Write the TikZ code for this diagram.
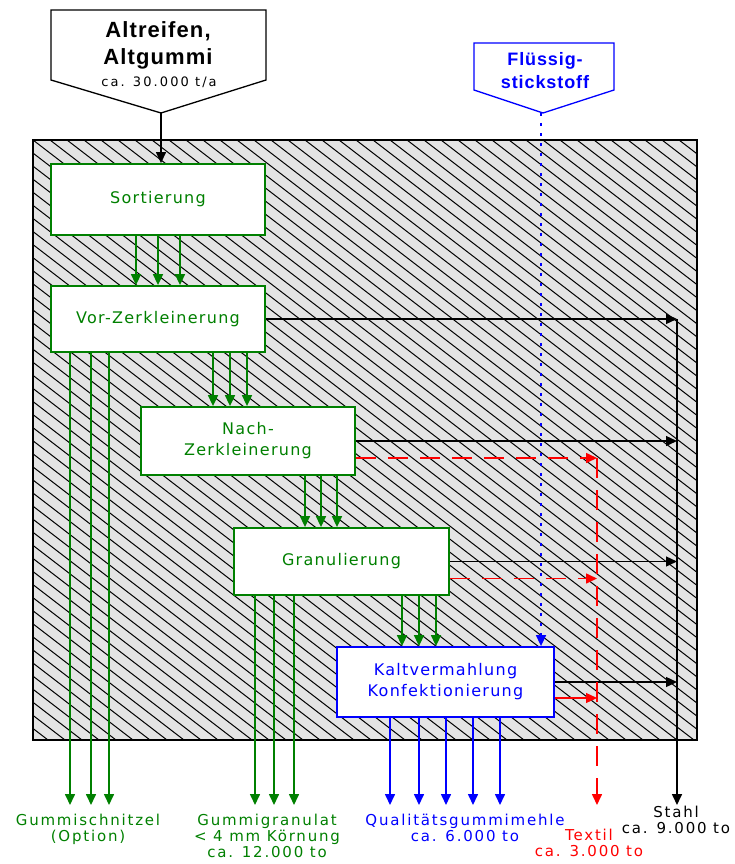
\documentclass[tikz,border=0pt]{standalone}
\usepackage{fontspec}
\setmainfont{DejaVu Sans}
\newfontfamily\boxfont[LetterSpace=8]{DejaVu Sans}
\newfontfamily\lblfont[LetterSpace=12]{DejaVu Sans}
\newfontfamily\kopffont[LetterSpace=16]{DejaVu Sans}
\newfontfamily\headfont[LetterSpace=5]{Liberation Sans}
\usetikzlibrary{arrows.meta}
\definecolor{dgreen}{rgb}{0,0.5,0}
\definecolor{hgray}{RGB}{228,228,228}
\begin{document}
\begin{tikzpicture}[x=1pt,y=-1pt, line join=miter, >={Triangle[length=11pt,width=10pt]},
	stufe/.style={draw=dgreen,line width=1.8pt,fill=white,text=dgreen,minimum width=214pt,minimum height=68pt,inner sep=0pt,align=center,font=\boxfont\fontsize{16}{21}\selectfont},
	gpfeil/.style={->,dgreen,line width=1.6pt},
	bpfeil/.style={->,blue,line width=1.6pt},
	spfeil/.style={->,black,line width=1.3pt},
	rpfeil/.style={->,red,line width=1.6pt,dash pattern=on 20pt off 12pt},
	ziel/.style={anchor=north,inner sep=0pt,align=center,font=\lblfont\fontsize{15}{16}\selectfont}]
	\useasboundingbox (0,0) rectangle (734,864);
	% Anlage
	\fill[hgray] (33,140) rectangle (697,740);
	\begin{scope}
		\clip (33,140) rectangle (697,740);
		\foreach \k in {-46,...,40} \draw[line width=1pt] ({33+17*\k},140) -- ++(780,600);
	\end{scope}
	\draw[line width=1.6pt] (33,140) rectangle (697,740);
	% Eingaenge
	\draw[line width=1.3pt,fill=white] (51,10) -- (266,10) -- (266,80) -- (161,113) -- (51,80) -- cycle;
	\node[font=\headfont\bfseries\fontsize{22}{27}\selectfont,align=center] (alt) at (158,45) {Altreifen,\\Altgummi};
	\node[font=\kopffont\fontsize{13}{15}\selectfont] (menge) at (159,82) {ca. 30.000 t/a};
	\coordinate (quelle) at (161,113);
	\draw[blue,line width=1.3pt,fill=white] (474,43) -- (614,43) -- (614,90) -- (543,113) -- (474,90) -- cycle;
	\node[blue,font=\headfont\bfseries\fontsize{18}{23}\selectfont,align=center] (ln2) at (545,71) {Flüssig-\\stickstoff};
	\coordinate (stick) at (541,113);
	% Stufen
	\node[stufe,minimum height=71pt] (sort) at (158,199.5) {Sortierung};
	\node[stufe,minimum height=66pt] (vor) at (158,319) {Vor-Zerkleinerung};
	\node[stufe] (nach) at (248,441) {Nach-\\Zerkleinerung};
	\node[stufe,minimum width=215pt,minimum height=67pt] (gran) at (341.5,561.5) {Granulierung};
	\node[stufe,draw=blue,text=blue,minimum width=217pt,minimum height=70pt] (kalt) at (445.5,682) {Kaltvermahlung\\Konfektionierung};
	\coordinate (stahl) at (677,805);
	\coordinate (textil) at (597,805);
	% Materialfluss
	\draw[spfeil] (quelle) -- (quelle |- sort.north);
	\draw[->,blue,line width=1.5pt,dash pattern=on 3pt off 7pt] (stick) -- (stick |- kalt.north);
	\foreach \x in {136,158,180} \draw[gpfeil] (\x,0 |- sort.south) -- (\x,0 |- vor.north);
	\foreach \x in {213,230,247} \draw[gpfeil] (\x,0 |- vor.south) -- (\x,0 |- nach.north);
	\foreach \x in {305,321,337} \draw[gpfeil] (\x,0 |- nach.south) -- (\x,0 |- gran.north);
	\foreach \x in {402,419,436} \draw[gpfeil] (\x,0 |- gran.south) -- (\x,0 |- kalt.north);
	% Stahl
	\foreach \n in {vor,nach,gran,kalt} \draw[spfeil] (\n.east) -- (\n.east -| stahl);
	\draw[spfeil,line width=1.6pt] (vor.east -| stahl) -- (stahl);
	% Textil
	\coordinate (nachR) at ([yshift=-17pt]nach.east);
	\coordinate (granR) at ([yshift=-17pt]gran.east);
	\coordinate (kaltR) at ([yshift=-16pt]kalt.east);
	\draw[rpfeil] (nachR) -- (nachR -| textil);
	\draw[rpfeil] (granR) -- (granR -| textil);
	\draw[->,red,line width=1.1pt] (kaltR) -- (kaltR -| textil);
	\draw[rpfeil] (nachR -| textil) -- (textil);
	% Produkte
	\foreach \x in {70,91,109} \draw[gpfeil] (\x,0 |- vor.south) -- (\x,0 |- textil);
	\foreach \x in {255,274,294} \draw[gpfeil] (\x,0 |- gran.south) -- (\x,0 |- textil);
	\foreach \x in {390,419,446,473,500} \draw[bpfeil] (\x,0 |- kalt.south) -- (\x,0 |- textil);
	\node[ziel,text=dgreen] (schnitzel) at (88,814) {Gummischnitzel\\(Option)};
	\node[ziel,text=dgreen] (granulat) at (267,814) {Gummigranulat\\< 4 mm Körnung\\ca. 12.000 to};
	\node[ziel,text=blue] (mehl) at (465,814) {Qualitätsgummimehle\\ca. 6.000 to};
	\node[ziel,text=red] (tex) at (589,829) {Textil\\ca. 3.000 to};
	\node[ziel] (st) at (676,806) {Stahl\\ca. 9.000 to};
\end{tikzpicture}
\end{document}
